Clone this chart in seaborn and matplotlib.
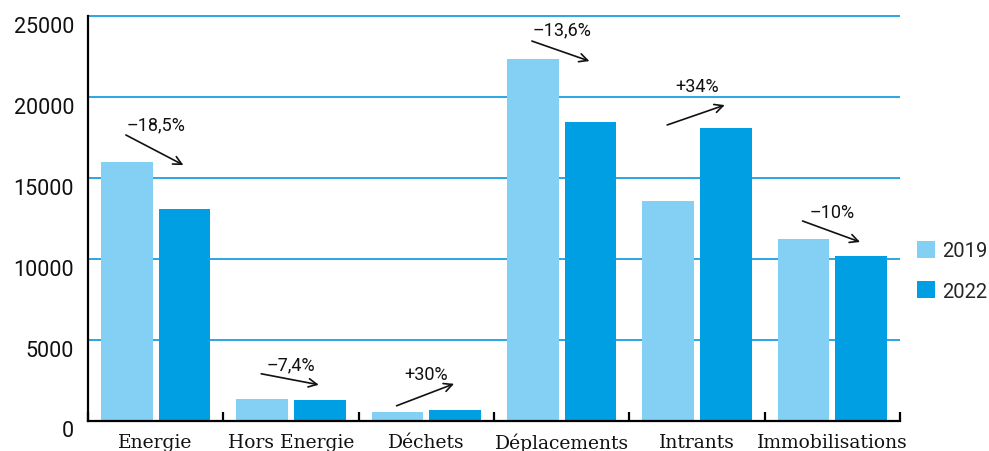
import matplotlib
matplotlib.use("Agg")
import matplotlib.pyplot as plt
from matplotlib.patches import Patch
from matplotlib.transforms import ScaledTranslation
import seaborn as sns
import pandas as pd

# Emission sources and their values for each year
categories = ["Energie", "Hors Energie", "Déchets", "Déplacements", "Intrants", "Immobilisations"]
years = ["2019", "2022"]
values_2019 = [16000, 1340, 500, 22360, 13550, 11200]
values_2022 = [13080, 1250, 650, 18480, 18100, 10150]
colors = ["#84cff4", "#009fe3"]

# Change between the two years, with arrow start/end heights and label height
changes = ["–18,5%", "–7,4%", "+30%", "–13,6%", "+34%", "–10%"]
arrow_from = [17660, 2890, 910, 23470, 18280, 12340]
arrow_to = [15800, 2210, 2270, 22230, 19510, 11040]
change_label_y = [18340, 3500, 2890, 24210, 20690, 12900]

yticks = [0, 5000, 10000, 15000, 20000, 25000]

df = pd.DataFrame({
    "categorie": categories * 2,
    "annee": [years[0]] * len(categories) + [years[1]] * len(categories),
    "valeur": values_2019 + values_2022,
})

sns.set_theme(style="white")
plt.rcParams["font.family"] = ["Roboto", "DejaVu Sans"]

fig = plt.figure(figsize=(9.89, 4.52), dpi=100)
W, H = 989, 452
x0, x1 = 88, 900
y_base, y_top = 421.5, 15.7
ax = fig.add_axes([x0 / W, 1 - y_base / H, (x1 - x0) / W, (y_base - y_top) / H])

sns.barplot(data=df, x="categorie", y="valeur", hue="annee", order=categories,
            hue_order=years, palette=colors, width=0.85, gap=0.1,
            saturation=1, legend=False, ax=ax, zorder=2, linewidth=0, edgecolor="none")

ax.set_xlim(-0.5, len(categories) - 0.5)
ax.set_ylim(0, 25100)
ax.set_xlabel("")
ax.set_ylabel("")

# Grid and spines
ax.set_axisbelow(True)
ax.yaxis.grid(True, color="#1b9ee0", linewidth=1.3)
ax.xaxis.grid(False)
for side in ("top", "right"):
    ax.spines[side].set_visible(False)
for side in ("left", "bottom"):
    ax.spines[side].set_color("black")
    ax.spines[side].set_linewidth(1.6)
ax.spines["left"].set_bounds(0, 25000)

# Y axis
ax.set_yticks(yticks)
ax.set_yticklabels([str(v) for v in yticks])
ax.tick_params(axis="y", length=0, pad=10, labelsize=15.5, labelcolor="#111111")
for lab in ax.get_yticklabels():
    lab.set_transform(lab.get_transform() + ScaledTranslation(0, -8 / 100, fig.dpi_scale_trans))

# X axis: category names, with small inward ticks between groups
ax.set_xticks(range(len(categories)))
ax.set_xticklabels(categories, family=["DejaVu Serif"], fontsize=13.5, color="#111111")
ax.set_xticks([i - 0.5 for i in range(len(categories) + 1)], minor=True)
ax.tick_params(axis="x", which="major", length=0, pad=9)
ax.tick_params(axis="x", which="minor", direction="in", length=6.5, width=1.6,
               color="black", bottom=True)

# Change arrows and labels
for i, (txt, ya, yb, yl) in enumerate(zip(changes, arrow_from, arrow_to, change_label_y)):
    ax.annotate("", xy=(i + 0.205, yb), xytext=(i - 0.22, ya),
                arrowprops=dict(arrowstyle="->,head_length=0.6,head_width=0.3",
                                mutation_scale=10, lw=1.2, color="#111111",
                                shrinkA=0, shrinkB=0),
                zorder=4)
    ax.text(i, yl, txt, ha="center", va="center", fontsize=13, color="#111111", zorder=4)

# Legend
handles = [Patch(facecolor=c, edgecolor="none", label=y) for c, y in zip(colors, years)]
fig.legend(handles=handles, loc="upper left", bbox_to_anchor=(917 / W, 1 - 242 / H),
           frameon=False, fontsize=14.5, handlelength=0.9, handleheight=0.9,
           handletextpad=0.35, labelspacing=1.05, borderpad=0, borderaxespad=0)

fig.savefig("out.png", dpi=100)
